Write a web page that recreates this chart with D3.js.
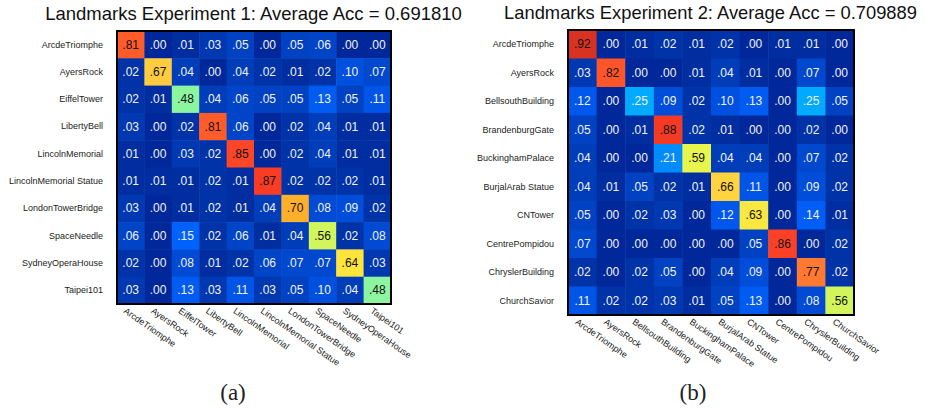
<!DOCTYPE html>
<html>
<head>
<meta charset="utf-8">
<script src="https://cdn.jsdelivr.net/npm/d3@7"></script>
<style>
  html, body { margin: 0; padding: 0; background: #fff; }
  svg { display: block; }
</style>
</head>
<body>
<svg id="chart" width="925" height="409"></svg>
<script>
// ---------------- DATA ----------------
const titles = [
  "Landmarks Experiment 1: Average Acc = 0.691810",
  "Landmarks Experiment 2: Average Acc = 0.709889"
];
const subcaptions = ["(a)", "(b)"];

const categories1 = ["ArcdeTriomphe", "AyersRock", "EiffelTower", "LibertyBell", "LincolnMemorial",
  "LincolnMemorial Statue", "LondonTowerBridge", "SpaceNeedle", "SydneyOperaHouse", "Taipei101"];
const values1 = [
  [0.81, 0.00, 0.01, 0.03, 0.05, 0.00, 0.05, 0.06, 0.00, 0.00],
  [0.02, 0.67, 0.04, 0.00, 0.04, 0.02, 0.01, 0.02, 0.10, 0.07],
  [0.02, 0.01, 0.48, 0.04, 0.06, 0.05, 0.05, 0.13, 0.05, 0.11],
  [0.03, 0.00, 0.02, 0.81, 0.06, 0.00, 0.02, 0.04, 0.01, 0.01],
  [0.01, 0.00, 0.03, 0.02, 0.85, 0.00, 0.02, 0.04, 0.01, 0.01],
  [0.01, 0.01, 0.01, 0.02, 0.01, 0.87, 0.02, 0.02, 0.02, 0.01],
  [0.03, 0.00, 0.01, 0.02, 0.01, 0.04, 0.70, 0.08, 0.09, 0.02],
  [0.06, 0.00, 0.15, 0.02, 0.06, 0.01, 0.04, 0.56, 0.02, 0.08],
  [0.02, 0.00, 0.08, 0.01, 0.02, 0.06, 0.07, 0.07, 0.64, 0.03],
  [0.03, 0.00, 0.13, 0.03, 0.11, 0.03, 0.05, 0.10, 0.04, 0.48]
];

const categories2 = ["ArcdeTriomphe", "AyersRock", "BellsouthBuilding", "BrandenburgGate", "BuckinghamPalace",
  "BurjalArab Statue", "CNTower", "CentrePompidou", "ChryslerBuilding", "ChurchSavior"];
const values2 = [
  [0.92, 0.00, 0.01, 0.02, 0.01, 0.02, 0.00, 0.01, 0.01, 0.00],
  [0.03, 0.82, 0.00, 0.00, 0.01, 0.04, 0.01, 0.00, 0.07, 0.00],
  [0.12, 0.00, 0.25, 0.09, 0.02, 0.10, 0.13, 0.00, 0.25, 0.05],
  [0.05, 0.00, 0.01, 0.88, 0.02, 0.01, 0.00, 0.00, 0.02, 0.00],
  [0.04, 0.00, 0.00, 0.21, 0.59, 0.04, 0.04, 0.00, 0.07, 0.02],
  [0.04, 0.01, 0.05, 0.02, 0.01, 0.66, 0.11, 0.00, 0.09, 0.02],
  [0.05, 0.00, 0.02, 0.03, 0.00, 0.12, 0.63, 0.00, 0.14, 0.01],
  [0.07, 0.00, 0.00, 0.00, 0.00, 0.00, 0.05, 0.86, 0.00, 0.02],
  [0.02, 0.00, 0.02, 0.05, 0.00, 0.04, 0.09, 0.00, 0.77, 0.02],
  [0.11, 0.02, 0.02, 0.03, 0.01, 0.05, 0.13, 0.00, 0.08, 0.56]
];

// ---------------- STYLE / LAYOUT ----------------
const colorStops = [0.00, 0.02, 0.05, 0.10, 0.15, 0.21, 0.25, 0.48, 0.56, 0.59, 0.64, 0.67, 0.70, 0.77, 0.82, 0.87, 0.92];
const colorRange = ["#00289a", "#0033a8", "#0042c2", "#0050e0", "#0062fc", "#008cff", "#00aaff", "#8cf59f",
  "#d2f55c", "#e8f54c", "#ffe43c", "#ffcc40", "#ffb02a", "#ff7a30", "#ff5528", "#fa3c24", "#d83222"];
const color = d3.scaleLinear().domain(colorStops).range(colorRange).interpolate(d3.interpolateRgb).clamp(true);

const panels = [
  { cats: categories1, vals: values1, title: titles[0], sub: subcaptions[0],
    x0: 117, y0: 31, w: 274, h: 273, titleX: 253.5, titleY: 19.5, titleW: 417, subX: 233 },
  { cats: categories2, vals: values2, title: titles[1], sub: subcaptions[1],
    x0: 568, y0: 30, w: 286, h: 285, titleX: 710.5, titleY: 18.5, titleW: 413, subX: 693 }
];

const fmt = v => d3.format(".2f")(v).replace(/^0/, "");
const svg = d3.select("#chart");
const sans = "'Liberation Sans', Arial, Helvetica, sans-serif";

panels.forEach(p => {
  const g = svg.append("g");
  const x = d3.scaleBand().domain(d3.range(p.cats.length)).range([p.x0, p.x0 + p.w]);
  const y = d3.scaleBand().domain(d3.range(p.cats.length)).range([p.y0, p.y0 + p.h]);

  const cells = [];
  p.vals.forEach((row, i) => row.forEach((v, j) => cells.push({ i, j, v })));

  g.selectAll("rect.cell").data(cells).join("rect")
    .attr("class", "cell")
    .attr("x", d => x(d.j)).attr("y", d => y(d.i))
    .attr("width", x.bandwidth() + 0.5).attr("height", y.bandwidth() + 0.5)
    .attr("fill", d => color(d.v));

  g.selectAll("text.val").data(cells).join("text")
    .attr("class", "val")
    .attr("x", d => x(d.j) + x.bandwidth() / 2)
    .attr("y", d => y(d.i) + y.bandwidth() / 2)
    .attr("text-anchor", "middle")
    .attr("dominant-baseline", "central")
    .attr("font-family", sans)
    .attr("font-size", 12)
    .attr("fill", d => d.v >= 0.4 ? "#111" : "#f2f2f2")
    .text(d => fmt(d.v));

  // border
  g.append("rect")
    .attr("x", p.x0).attr("y", p.y0).attr("width", p.w).attr("height", p.h)
    .attr("fill", "none").attr("stroke", "#000").attr("stroke-width", 2);

  // y labels via axis
  const yAxis = d3.axisLeft(y).tickSize(0).tickPadding(0).tickFormat(i => p.cats[i]);
  const ya = g.append("g").attr("transform", `translate(${p.x0 - 14},0)`).call(yAxis);
  ya.select(".domain").remove();
  ya.selectAll("text").attr("font-family", sans).attr("font-size", 9).attr("fill", "#222");

  // x labels via axis, rotated
  const xAxis = d3.axisBottom(x).tickSize(0).tickPadding(0).tickFormat(i => p.cats[i]);
  const xa = g.append("g").attr("transform", `translate(0,${p.y0 + p.h})`).call(xAxis);
  xa.select(".domain").remove();
  xa.selectAll("text")
    .attr("font-family", sans).attr("font-size", 9).attr("fill", "#222")
    .attr("text-anchor", "start")
    .attr("dy", null).attr("y", null)
    .attr("dominant-baseline", "hanging")
    .attr("transform", "translate(-4,3) rotate(35)");

  // title
  const t = svg.append("text")
    .attr("x", p.titleX).attr("y", p.titleY)
    .attr("text-anchor", "middle")
    .attr("font-family", sans).attr("font-size", 18).attr("fill", "#111")
    .text(p.title);
  const len = t.node().getComputedTextLength();
  if (len > 0) t.attr("font-size", 18 * p.titleW / len);

  // subcaption
  svg.append("text")
    .attr("x", p.subX).attr("y", 400)
    .attr("text-anchor", "middle")
    .attr("font-family", "'Liberation Serif', 'DejaVu Serif', serif").attr("font-size", 23).attr("fill", "#222")
    .text(p.sub);
});
</script>
</body>
</html>
